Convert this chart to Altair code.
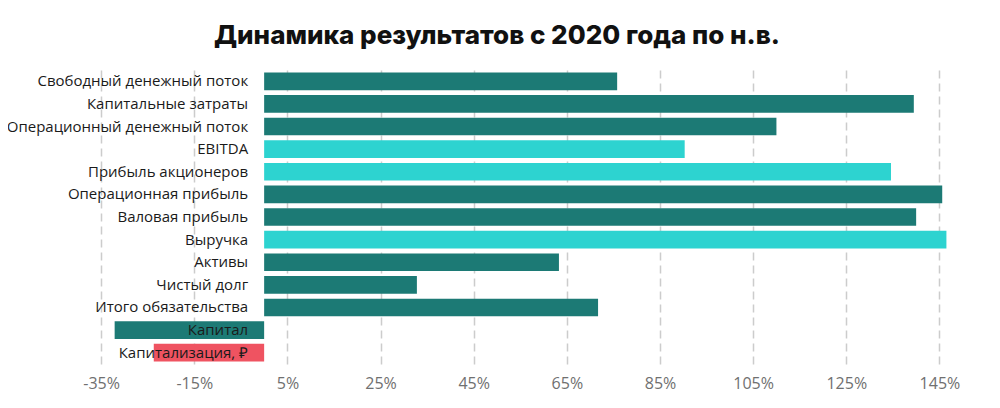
import altair as alt
import pandas as pd

categories = [
    "Свободный денежный поток",
    "Капитальные затраты",
    "Операционный денежный поток",
    "EBITDA",
    "Прибыль акционеров",
    "Операционная прибыль",
    "Валовая прибыль",
    "Выручка",
    "Активы",
    "Чистый долг",
    "Итого обязательства",
    "Капитал",
    "Капитализация, ₽",
]
values = [75.8, 139.5, 110.0, 90.3, 134.6, 145.6, 140.0, 146.5, 63.3, 32.8, 71.7, -32.1, -23.7]
groups = ["dark", "dark", "dark", "light", "light", "dark", "dark", "light",
          "dark", "dark", "dark", "dark", "red"]
tick_values = [-35, -15, 5, 25, 45, 65, 85, 105, 125, 145]

df = pd.DataFrame({"cat": categories, "value": values, "grp": groups})

y_enc = alt.Y("cat:N", sort=categories, axis=None,
              scale=alt.Scale(paddingInner=0.22, paddingOuter=0.11))

bars = alt.Chart(df).mark_bar().encode(
    y=y_enc,
    x=alt.X("value:Q",
            scale=alt.Scale(domain=[-55, 155], nice=False, zero=False),
            axis=alt.Axis(values=tick_values, labelExpr="datum.value + '%'",
                          grid=True, gridDash=[8, 5], gridColor="#cccccc", gridWidth=1.5,
                          domain=False, ticks=False, labelColor="#707070",
                          labelFontSize=16, labelFont="Open Sans", labelPadding=11,
                          title=None)),
    color=alt.Color("grp:N", legend=None,
                    scale=alt.Scale(domain=["dark", "light", "red"],
                                    range=["#1c7a75", "#2dd3d0", "#ef5361"])),
)

labels = alt.Chart(df).mark_text(align="right", baseline="middle", dx=-16,
                                 fontSize=15, font="Open Sans", color="#1a1a1a").encode(
    y=y_enc,
    x=alt.datum(0),
    text="cat:N",
)

chart = alt.layer(bars, labels).properties(
    width=978,
    height=294,
    autosize=alt.AutoSizeParams(type="none"),
    padding={"left": 0, "top": 62, "right": 6, "bottom": 36},
    title=alt.TitleParams("Динамика результатов с 2020 года по н.в.",
                          font="Inter", fontWeight=800, fontSize=26,
                          anchor="middle", baseline="alphabetic", offset=0,
                          color="#111111"),
).configure_view(stroke=None)

chart.save("out.html", embed_options={"renderer": "svg", "actions": False})
